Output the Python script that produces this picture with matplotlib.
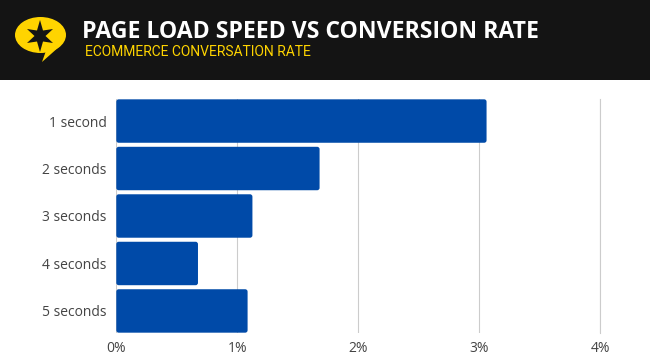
import matplotlib
matplotlib.use('Agg')
import matplotlib.pyplot as plt
from matplotlib.patches import Ellipse, FancyBboxPatch, Polygon, Rectangle

W, H = 650, 361

categories = ["1 second", "2 seconds", "3 seconds", "4 seconds", "5 seconds"]
conversion = [3.06, 1.68, 1.125, 0.675, 1.085]
xticks = [0, 1, 2, 3, 4]
xticklabels = ["0%", "1%", "2%", "3%", "4%"]
title = "PAGE LOAD SPEED VS CONVERSION RATE"
subtitle = "ECOMMERCE CONVERSATION RATE"

BLUE = "#004aa8"
YELLOW = "#ffd400"
DARK = "#141414"

fig = plt.figure(figsize=(W / 100, H / 100), dpi=100)

# header band and logo, in pixel coords
bg = fig.add_axes([0, 0, 1, 1])
bg.set_xlim(0, W)
bg.set_ylim(H, 0)
bg.axis('off')
bg.add_patch(Rectangle((0, 0), W, 80, color=DARK, lw=0))
bg.add_patch(Ellipse((40.5, 35), 51, 36, color=YELLOW, lw=0))
bg.add_patch(Polygon([(47, 48), (42, 62), (60, 46)], color=YELLOW, lw=0))
bg.add_patch(Polygon([(40, 20), (43, 30.5), (53, 29), (45.5, 36), (53, 43), (43, 41.5),
                      (40, 52), (37, 41.5), (27, 43), (34.5, 36), (27, 29), (37, 30.5)],
                     color=DARK, lw=0))
bg.text(82, 31.5, title, color="white", fontsize=16.6, fontweight='bold',
        family="Open Sans", va='center', ha='left')
bg.text(85, 51.5, subtitle, color=YELLOW, fontsize=10, family="Roboto",
        va='center', ha='left')

# plot area: 0% at x=116.3, 121 px per 1%
x0, x1 = 116.3, 600.3
y0, y1 = 99.2, 332.8
ylim = (4.46, -0.46)
ax = fig.add_axes([x0 / W, 1 - y1 / H, (x1 - x0) / W, (y1 - y0) / H])
ax.patch.set_alpha(0)
ax.set_axisbelow(True)

bars = ax.barh(categories, conversion, height=0.915, color=BLUE)
aspect = ((ylim[0] - ylim[1]) / (y1 - y0)) / (4 / (x1 - x0))
for b in list(bars):
    ax.add_patch(FancyBboxPatch((b.get_x(), b.get_y()), b.get_width(), b.get_height(),
                                boxstyle="round,pad=0,rounding_size=0.02",
                                mutation_aspect=aspect, color=BLUE, lw=0, zorder=3))
    b.set_visible(False)

ax.set_xlim(0, 4)
ax.set_ylim(*ylim)
ax.set_xticks(xticks)
ax.set_xticklabels(xticklabels)
ax.xaxis.grid(True, color="#cccccc", lw=0.8)
ax.yaxis.grid(False)
ax.tick_params(axis='both', length=0, labelsize=10, labelcolor="#444444")
ax.tick_params(axis='x', pad=6)
ax.tick_params(axis='y', pad=7)
for label in ax.get_xticklabels() + ax.get_yticklabels():
    label.set_family("Open Sans")
for s in ax.spines.values():
    s.set_visible(False)
# the 4% gridline sits on the axes edge, so draw it with the spine
ax.spines['right'].set_visible(True)
ax.spines['right'].set_color("#cccccc")
ax.spines['right'].set_linewidth(0.8)

fig.savefig("out.png", dpi=100)
